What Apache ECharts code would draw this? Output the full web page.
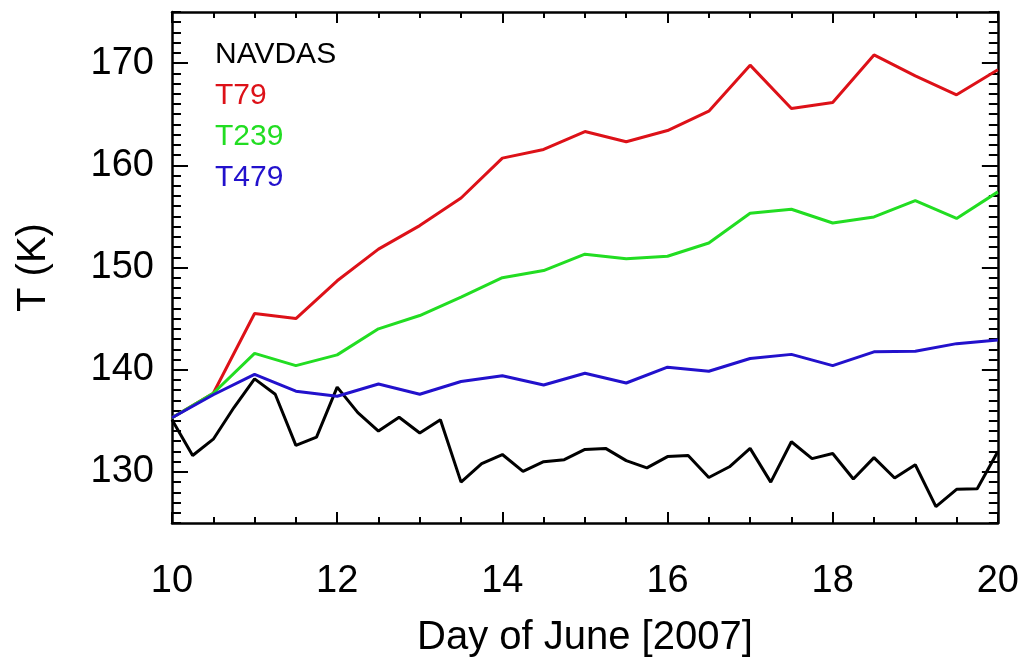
<!DOCTYPE html>
<html>
<head>
<meta charset="utf-8">
<script src="https://cdn.jsdelivr.net/npm/echarts@6/dist/echarts.min.js"></script>
<style>
html,body{margin:0;padding:0;background:#fff;}
#chart{width:1022px;height:663px;}
</style>
</head>
<body>
<div id="chart"></div>
<script>
// ---- data ----
const modelDays = [10, 10.5, 11, 11.5, 12, 12.5, 13, 13.5, 14, 14.5, 15, 15.5, 16, 16.5, 17, 17.5, 18, 18.5, 19, 19.5, 20];
const t79  = [135.3, 137.7, 145.5, 145.0, 148.7, 151.8, 154.1, 156.8, 160.7, 161.55, 163.3, 162.3, 163.4, 165.3, 169.8, 165.55, 166.15, 170.8, 168.75, 166.9, 169.35];
const t239 = [135.3, 137.7, 141.6, 140.4, 141.45, 144.0, 145.3, 147.1, 149.0, 149.7, 151.3, 150.85, 151.1, 152.4, 155.3, 155.7, 154.35, 154.95, 156.55, 154.8, 157.4];
const t479 = [135.3, 137.55, 139.55, 137.9, 137.4, 138.6, 137.6, 138.85, 139.4, 138.5, 139.65, 138.7, 140.25, 139.85, 141.1, 141.5, 140.4, 141.75, 141.8, 142.55, 142.9];
const navdasDays = [10, 10.25, 10.5, 10.75, 11, 11.25, 11.5, 11.75, 12, 12.25, 12.5, 12.75, 13, 13.25, 13.5, 13.75, 14, 14.25, 14.5, 14.75, 15,
                    15.25, 15.5, 15.75, 16, 16.25, 16.5, 16.75, 17, 17.25, 17.5, 17.75, 18, 18.25, 18.5, 18.75, 19, 19.25, 19.5, 19.75, 20];
const navdas = [135.1, 131.6, 133.2, 136.3, 139.1, 137.6, 132.6, 133.4, 138.3, 135.8, 134.0, 135.35, 133.8, 135.1, 129.0, 130.8, 131.7, 130.05, 131.0, 131.2, 132.2,
                132.3, 131.1, 130.4, 131.5, 131.6, 129.45, 130.5, 132.3, 129.0, 132.95, 131.3, 131.8, 129.3, 131.4, 129.4, 130.7, 126.6, 128.3, 128.35, 132.0];
const yTickLabels = [130, 140, 150, 160, 170];
const seriesNames = ['NAVDAS', 'T79', 'T239', 'T479'];
const seriesColors = ['#000000', '#dd1118', '#22dd22', '#2211cc'];

function pairs(xs, ys) { return xs.map((x, i) => [x, ys[i]]); }

const FONT = 'Liberation Sans, Arial, Helvetica, sans-serif';
const chart = echarts.init(document.getElementById('chart'), null, {renderer: 'canvas'});

const lineStyleAxis = {show: true, lineStyle: {color: '#000', width: 2.5}, onZero: false};

const option = {
  backgroundColor: '#fff',
  animation: false,
  grid: {left: 172, right: 20, top: 12, bottom: 138, containLabel: false},
  legend: {
    orient: 'vertical', left: 205, top: 35,
    icon: 'none', itemWidth: 0, itemHeight: 30, itemGap: 11,
    selectedMode: false,
    data: seriesNames.map((n, i) => ({name: n, textStyle: {color: seriesColors[i]}})),
    textStyle: {fontFamily: FONT, fontSize: 30, lineHeight: 30}
  },
  xAxis: [
    {
      type: 'value', position: 'bottom', min: 10, max: 20, interval: 2,
      axisLine: lineStyleAxis,
      axisTick: {show: true, inside: true, length: 11, lineStyle: {color: '#000', width: 2}},
      minorTick: {show: true, splitNumber: 4, length: 6, lineStyle: {color: '#000', width: 2}},
      splitLine: {show: false},
      axisLabel: {show: true, margin: 40, fontFamily: FONT, fontSize: 38, color: '#000'},
      name: 'Day of June [2007]', nameLocation: 'middle', nameGap: 95,
      nameTextStyle: {fontFamily: FONT, fontSize: 40, color: '#000'}
    },
    {
      type: 'value', position: 'top', min: 10, max: 20, interval: 2,
      axisLine: lineStyleAxis,
      axisTick: {show: true, inside: true, length: 11, lineStyle: {color: '#000', width: 2}},
      minorTick: {show: true, splitNumber: 4, length: 6, lineStyle: {color: '#000', width: 2}},
      splitLine: {show: false},
      axisLabel: {show: false}
    }
  ],
  yAxis: [
    {
      type: 'value', position: 'left', min: 125, max: 175, interval: 5,
      axisLine: lineStyleAxis,
      axisTick: {show: true, inside: true, length: 16, customValues: yTickLabels, lineStyle: {color: '#000', width: 2}},
      splitLine: {show: false},
      axisLabel: {show: true, customValues: yTickLabels, margin: 18, fontFamily: FONT, fontSize: 38, color: '#000'},
      name: 'T (K)', nameLocation: 'middle', nameGap: 118, nameRotate: 90,
      nameTextStyle: {fontFamily: FONT, fontSize: 40, color: '#000'}
    },
    {
      type: 'value', position: 'left', min: 125, max: 175, interval: 1,
      axisLine: {show: false},
      axisTick: {show: true, inside: true, length: 9, lineStyle: {color: '#000', width: 2}},
      splitLine: {show: false},
      axisLabel: {show: false}
    },
    {
      type: 'value', position: 'right', min: 125, max: 175, interval: 5,
      axisLine: lineStyleAxis,
      axisTick: {show: true, inside: true, length: 16, customValues: yTickLabels, lineStyle: {color: '#000', width: 2}},
      splitLine: {show: false},
      axisLabel: {show: false}
    },
    {
      type: 'value', position: 'right', min: 125, max: 175, interval: 1,
      axisLine: {show: false},
      axisTick: {show: true, inside: true, length: 9, lineStyle: {color: '#000', width: 2}},
      splitLine: {show: false},
      axisLabel: {show: false}
    }
  ],
  series: [
    {name: 'NAVDAS', type: 'line', data: pairs(navdasDays, navdas)},
    {name: 'T79', type: 'line', data: pairs(modelDays, t79)},
    {name: 'T239', type: 'line', data: pairs(modelDays, t239)},
    {name: 'T479', type: 'line', data: pairs(modelDays, t479)}
  ].map((s, i) => Object.assign(s, {
    xAxisIndex: 0, yAxisIndex: 0, showSymbol: false, symbol: 'none',
    lineStyle: {color: seriesColors[i], width: 3}, itemStyle: {color: seriesColors[i]},
    emphasis: {disabled: true}, z: 2
  }))
};
chart.setOption(option);
</script>
</body>
</html>
